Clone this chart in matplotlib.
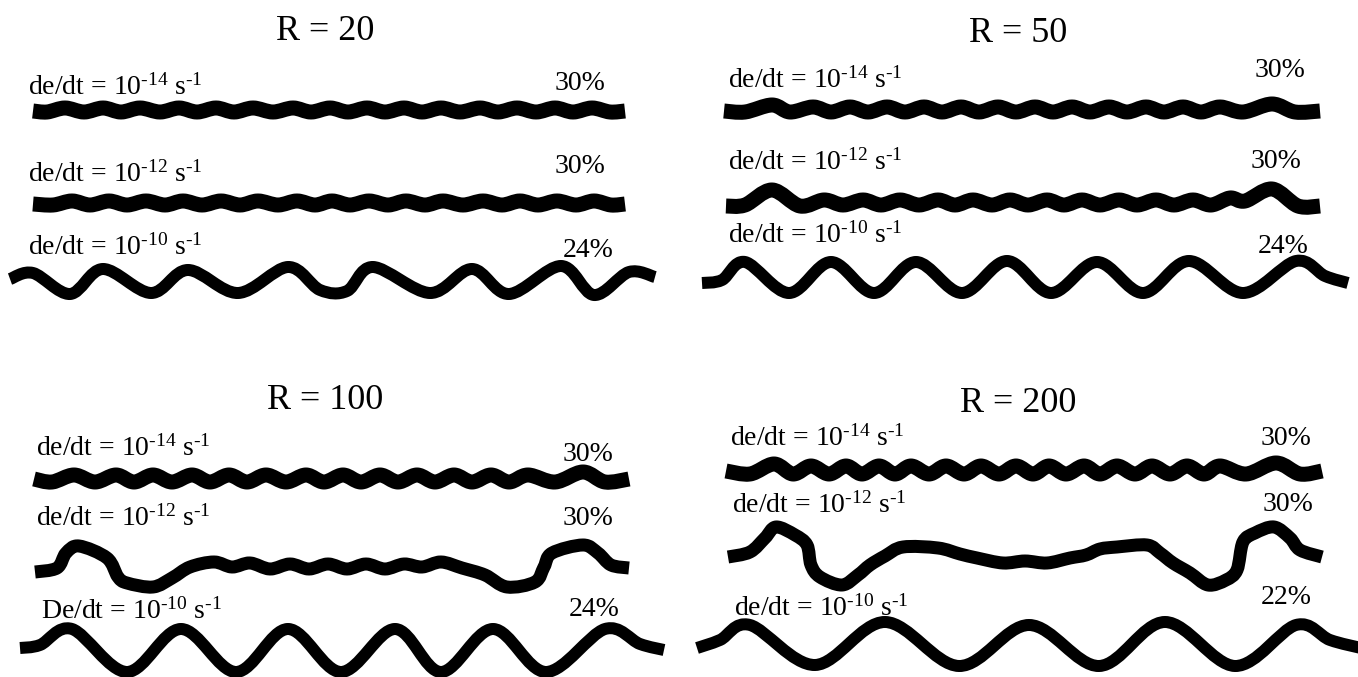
import numpy as np
import matplotlib
matplotlib.use('Agg')
import matplotlib.pyplot as plt
from matplotlib.path import Path
from matplotlib.patches import PathPatch

plt.rcParams['font.family'] = ['Liberation Serif', 'DejaVu Serif']
plt.rcParams['mathtext.fontset'] = 'custom'
plt.rcParams['mathtext.rm'] = 'Liberation Serif'
plt.rcParams['mathtext.it'] = 'Liberation Serif:italic'
plt.rcParams['mathtext.bf'] = 'Liberation Serif:bold'

W, H = 1358, 677

# panel titles and strain-rate labels
titles = ['R = 20', 'R = 50', 'R = 100', 'R = 200']
exponents = ['-14', '-12', '-10']
prefixes = [['de/dt', 'de/dt', 'de/dt'],
            ['de/dt', 'de/dt', 'de/dt'],
            ['de/dt', 'de/dt', 'De/dt'],
            ['de/dt', 'de/dt', 'de/dt']]
shortening = [[30, 30, 24],
              [30, 30, 24],
              [30, 30, 24],
              [30, 30, 22]]

# layer traces (x, y in image pixels, y downwards)
a1_x = [33, 47, 65, 84, 103, 121, 140, 160, 179, 197, 216, 234, 253, 273, 293, 311,
        330, 348, 367, 385, 404, 422, 441, 460, 480, 498, 517, 536, 555, 573, 592, 610, 625]
a1_y = [111, 112, 108, 112, 108, 112, 108, 112, 108, 112, 108, 112, 108, 112, 108, 112,
        108, 112, 108, 112, 108, 112, 108, 112, 108, 112, 108, 112, 108, 112, 108, 112, 111]
a2_x = [33, 53, 72, 90, 109, 127, 146, 165, 183, 202, 221, 240, 258, 278, 297, 315,
        332, 350, 369, 388, 406, 425, 443, 463, 483, 502, 520, 538, 557, 576, 594, 611, 625]
a2_y = [204, 205, 201, 205, 201, 205, 201, 205, 201, 205, 201, 205, 201, 205, 201, 205,
        201, 205, 201, 205, 201, 205, 201, 205, 201, 205, 201, 205, 201, 205, 201, 205, 204]
a3_x = [10, 33, 70, 103, 151, 188, 238, 288, 320, 347, 373, 430, 472, 509, 561, 594, 629, 655]
a3_y = [279, 273, 294, 269, 293, 270, 293, 267, 290, 291, 267, 293, 269, 294, 266, 295, 272, 277]

b1_x = [724, 745, 772, 790, 813, 831, 850, 868, 887, 905, 924, 942, 961, 979, 998, 1016,
        1035, 1053, 1072, 1090, 1109, 1127, 1146, 1164, 1183, 1201, 1220, 1243, 1272, 1295, 1320]
b1_y = [111, 112, 105, 112, 107, 112, 107, 112, 107, 112, 107, 112, 107, 112, 107, 112,
        107, 112, 107, 112, 107, 112, 107, 112, 107, 112, 107, 112, 104, 112, 111]
b2_x = [726, 745, 772, 800, 824, 843, 863, 881, 900, 919, 938, 955, 973, 992, 1010, 1028,
        1047, 1064, 1082, 1100, 1119, 1137, 1156, 1174, 1193, 1211, 1230, 1245, 1272, 1298, 1320]
b2_y = [206, 205, 190, 206, 200, 205, 200, 205, 200, 205, 200, 205, 200, 205, 200, 205,
        200, 205, 200, 205, 200, 205, 200, 205, 200, 205, 198, 201, 189, 206, 206]
b3_x = [702, 722, 745, 789, 831, 874, 916, 962, 1007, 1051, 1097, 1143, 1189, 1243, 1296, 1325, 1348]
b3_y = [283, 280, 262, 293, 262, 293, 262, 293, 261, 293, 262, 293, 261, 293, 261, 276, 283]

c1_x = [34, 52, 74, 95, 116, 134, 153, 172, 192, 210, 229, 247, 266, 286, 306, 324,
        343, 361, 380, 398, 417, 435, 454, 472, 491, 509, 528, 555, 583, 605, 629]
c1_y = [479, 482, 475, 482, 475, 482, 475, 482, 475, 482, 475, 482, 475, 482, 475, 482,
        475, 482, 475, 482, 475, 482, 475, 482, 475, 482, 475, 482, 472, 482, 479]
c2_x = [35, 57, 66, 79, 107, 118, 127, 153, 172, 190, 214, 232, 250, 270, 290, 309, 328,
        347, 366, 385, 404, 422, 441, 462, 485, 507, 535, 544, 552, 583, 598, 611, 629]
c2_y = [572, 568, 553, 546, 558, 577, 583, 587, 578, 567, 562, 567, 563, 569, 564, 569, 564,
        569, 564, 569, 564, 567, 562, 568, 575, 587, 582, 567, 553, 545, 553, 565, 568]
c3_x = [20, 40, 72, 127, 181, 236, 288, 341, 395, 441, 493, 546, 605, 640, 664]
c3_y = [648, 645, 629, 672, 629, 672, 629, 672, 629, 672, 629, 672, 629, 644, 650]

d1_x = [726, 750, 774, 793, 811, 829, 846, 862, 879, 895, 911, 929, 946, 964, 981, 999,
        1016, 1033, 1049, 1066, 1084, 1100, 1117, 1135, 1152, 1170, 1187, 1204, 1220, 1246,
        1276, 1300, 1322]
d1_y = [471, 474, 464, 474, 466, 474, 466, 474, 466, 474, 466, 474, 466, 474, 466, 474,
        466, 474, 466, 474, 466, 474, 466, 474, 466, 474, 466, 474, 466, 474,
        463, 474, 471]
d2_x = [728, 750, 765, 776, 795, 807, 811, 820, 842, 858, 870, 885, 903, 938, 960, 977,
        1003, 1025, 1047, 1070, 1086, 1100, 1117, 1147, 1160, 1173, 1190, 1208, 1226, 1237,
        1243, 1255, 1274, 1290, 1300, 1322]
d2_y = [557, 552, 538, 527, 535, 545, 565, 577, 585, 575, 565, 556, 547, 548, 554, 558,
        563, 561, 563, 558, 555, 549, 547, 545, 553, 563, 573, 585, 580, 570,
        542, 533, 527, 538, 550, 557]
d3_x = [697, 720, 750, 815, 885, 959, 1029, 1099, 1165, 1235, 1296, 1330, 1361]
d3_y = [648, 640, 625, 665, 622, 666, 625, 666, 622, 666, 625, 640, 648]

layers = [[(a1_x, a1_y), (a2_x, a2_y), (a3_x, a3_y)],
          [(b1_x, b1_y), (b2_x, b2_y), (b3_x, b3_y)],
          [(c1_x, c1_y), (c2_x, c2_y), (c3_x, c3_y)],
          [(d1_x, d1_y), (d2_x, d2_y), (d3_x, d3_y)]]

# layout (pixels)
title_pos = [(325, 40), (1018, 42), (325, 409), (1018, 412)]
label_pos = [[(28, 95), (28, 182), (28, 255)],
             [(728, 88), (728, 170), (728, 243)],
             [(36, 456), (36, 526), (41, 619)],
             [(730, 446), (732, 513), (734, 616)]]
pct_pos = [[(580, 90), (580, 173), (588, 257)],
           [(1280, 77), (1276, 168), (1283, 253)],
           [(588, 461), (588, 525), (594, 616)],
           [(1286, 445), (1288, 511), (1286, 604)]]
thick_px = [[15, 15, 12], [15, 15, 12], [15, 13, 12], [15, 13, 12]]


def smooth(xs, ys):
    p = np.column_stack([xs, ys]).astype(float)
    pad = np.vstack([p[0], p, p[-1]])
    verts = [p[0]]
    codes = [Path.MOVETO]
    for i in range(len(p) - 1):
        p0, p1, p2, p3 = pad[i], pad[i + 1], pad[i + 2], pad[i + 3]
        verts += [p1 + (p2 - p0) / 6, p2 - (p3 - p1) / 6, p2]
        codes += [Path.CURVE4] * 3
    return Path(verts, codes)


fig = plt.figure(figsize=(W / 100, H / 100), dpi=100)
ax = fig.add_axes([0, 0, 1, 1])
ax.set_xlim(0, W)
ax.set_ylim(H, 0)
ax.axis('off')

for k in range(4):
    ax.text(*title_pos[k], titles[k], fontsize=26, ha='center', va='baseline')
    for j in range(3):
        lab = prefixes[k][j] + ' = 10$^{\\text{%s}}$ s$^{\\text{-1}}$' % exponents[j]
        ax.text(*label_pos[k][j], lab, fontsize=20, ha='left', va='baseline', zorder=1)
        ax.text(*pct_pos[k][j], '%d%%' % shortening[k][j], fontsize=20,
                ha='center', va='baseline', zorder=1)
        xs, ys = layers[k][j]
        ax.add_patch(PathPatch(smooth(xs, ys), fill=False, edgecolor='black',
                               linewidth=thick_px[k][j] * 0.72, capstyle='butt',
                               joinstyle='round', zorder=3))

fig.savefig('out.png', dpi=100)
